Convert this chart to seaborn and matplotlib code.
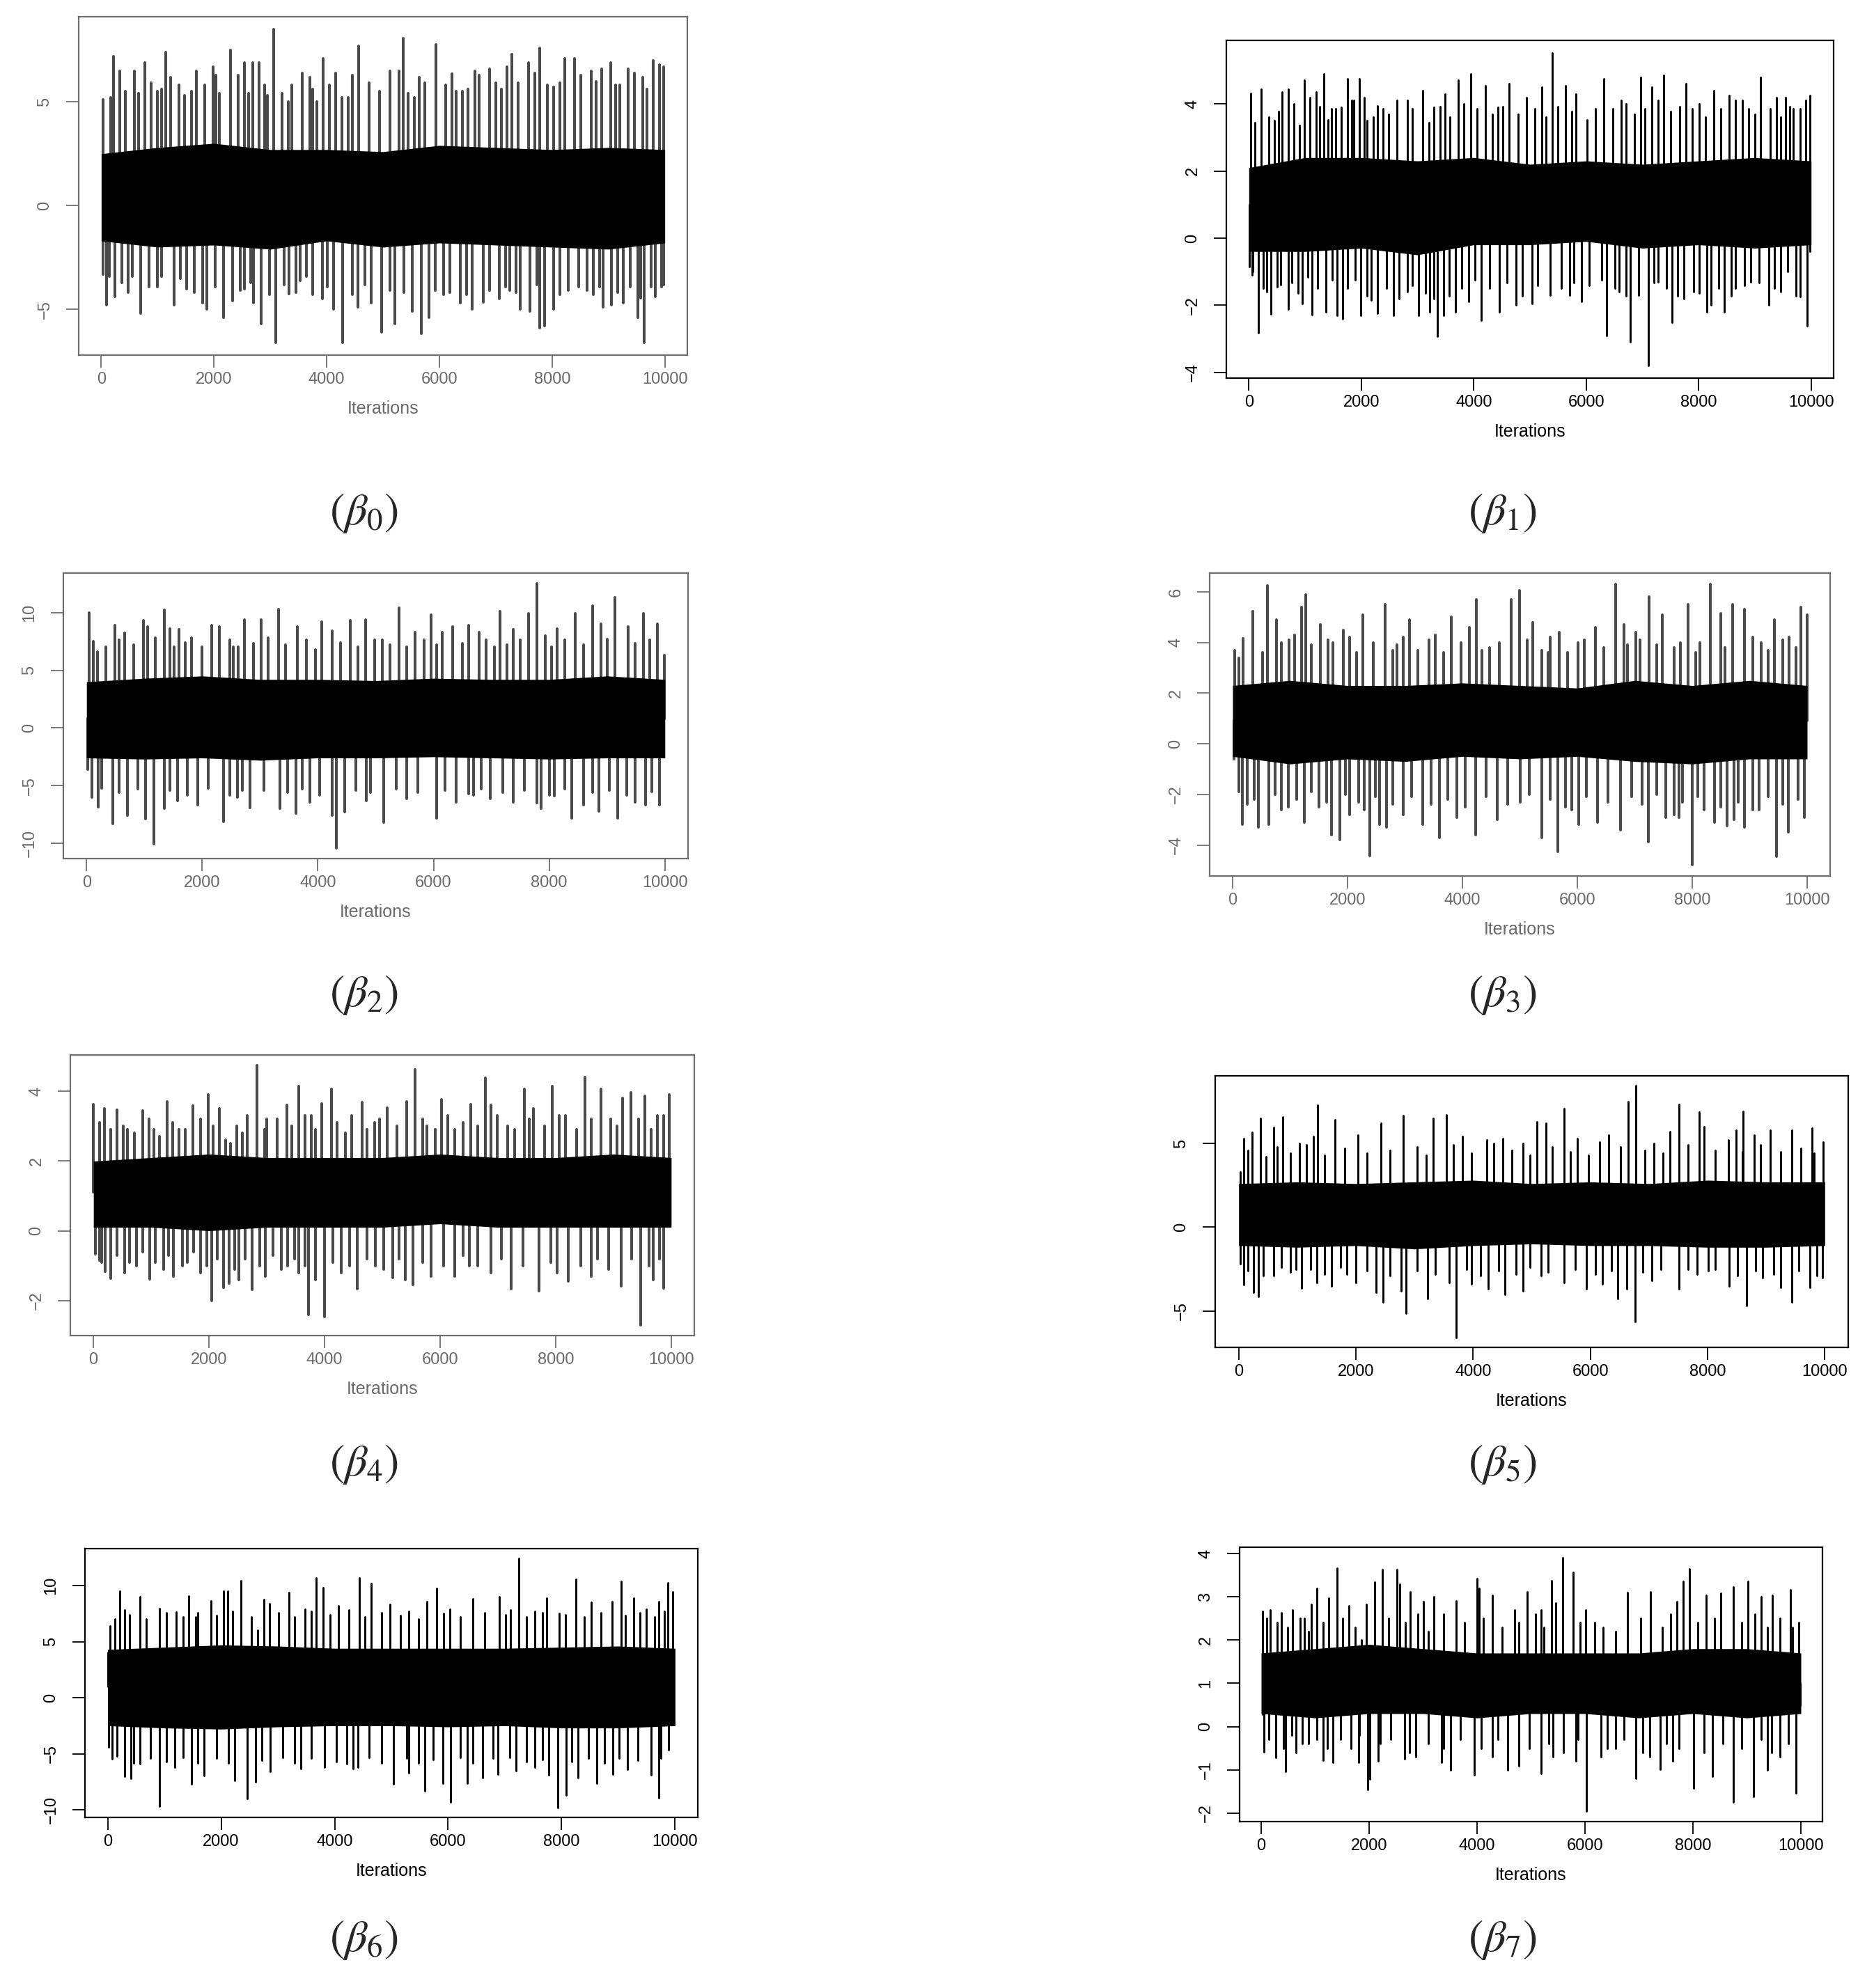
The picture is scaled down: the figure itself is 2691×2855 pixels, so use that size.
import numpy as np
import pandas as pd
import matplotlib
matplotlib.use("Agg")
import matplotlib.pyplot as plt
import seaborn as sns

# ---------------- data ----------------
# peaks / troughs: (iteration, value) of the tallest visible spikes,
# inner_up / inner_dn: the shorter spikes between them, core: edges of the solid black band
core_it = [0, 1000, 2000, 3000, 4000, 5000, 6000, 7000, 8000, 9000, 10000]
iter_ticks = [0, 2000, 4000, 6000, 8000, 10000]

b0_peak_it = [37, 221, 331, 589, 773, 994, 1141, 1230, 1473, 1694, 1988, 2099, 2298, 2541, 2688, 2798, 2946, 3056, 3387, 3572,
              3756, 3940, 4161, 4382, 4566, 4934, 5118, 5354, 5560, 5744, 5943, 6223, 6407, 6628, 6885, 7106, 7290, 7585, 7784, 8027,
              8226, 8395, 8690, 8874, 9036, 9205, 9352, 9610, 9794, 9978]
b0_peak_val = [5.1, 7.2, 6.5, 6.5, 6.9, 5.5, 7.4, 6.2, 5.3, 6.5, 6.7, 5.4, 7.5, 6.9, 6.9, 6.9, 5.3, 8.5, 5.8, 6.4,
               5.6, 7.1, 6.4, 5.2, 7.7, 5.5, 6.5, 8.05, 5.2, 5.9, 7.75, 6.35, 5.5, 6.5, 6.6, 5.6, 7.3, 6.9, 7.6, 5.7,
               7.1, 7.1, 6.5, 6.6, 6.9, 5.8, 6.6, 6.2, 7.0, 6.7]
b0_trough_it = [37, 96, 243, 479, 700, 994, 1289, 1510, 1878, 2172, 2334, 2541, 2703, 2835, 3093, 3336, 3535, 3756, 3925, 4124,
                4286, 4558, 4787, 4971, 5214, 5523, 5685, 5818, 6075, 6370, 6576, 6775, 7069, 7254, 7438, 7607, 7784, 7865, 8027, 8285,
                8726, 8910, 9058, 9257, 9522, 9632, 9831, 9978]
b0_trough_val = [-3.3, -4.8, -4.4, -4.2, -5.2, -3.9, -4.8, -4.0, -5.0, -5.4, -4.6, -4.0, -4.7, -5.7, -6.6, -4.25, -3.6, -4.3, -4.5, -5.0,
                 -6.6, -4.9, -4.7, -6.1, -5.7, -5.1, -6.15, -5.4, -4.3, -4.7, -5.0, -4.65, -4.5, -4.1, -5.0, -5.1, -5.9, -5.8, -5.0, -4.1,
                 -4.3, -4.9, -4.8, -4.7, -5.4, -6.6, -4.4, -3.8]
b0_inner_up_it = [169, 427, 663, 884, 1068, 1377, 1598, 1841, 2040, 2430, 2614, 2894, 3203, 3314, 3704, 3829, 4050, 4271, 4455,
                  4750, 5280, 5449, 5648, 6112, 6296, 6502, 6701, 6996, 7195, 7401, 7695, 7916, 8137, 8505, 8785, 9131, 9463, 9684, 9904]
b0_inner_up_val = [5.2, 5.5, 5.4, 5.9, 5.6, 5.8, 5.5, 5.8, 6.3, 6.3, 5.4, 5.8, 5.4, 5.0, 6.2, 5.0, 5.8, 5.2, 6.3,
                   5.9, 6.5, 5.4, 6.2, 5.8, 5.5, 5.6, 6.3, 5.9, 6.7, 5.9, 6.4, 5.8, 5.9, 6.3, 6.0, 5.8, 6.4, 5.6, 6.8]
b0_inner_dn_it = [147, 368, 552, 847, 1068, 1399, 1657, 1804, 2025, 2467, 2651, 2982, 3240, 3461, 3645, 4013, 4455, 4676, 5118,
                  5376, 5928, 6186, 6480, 6885, 7180, 7364, 7732, 8137, 8469, 8616, 8837, 9168, 9389, 9573, 9757, 9941]
b0_inner_dn_val = [-3.4, -3.7, -3.4, -3.9, -3.4, -3.5, -4.2, -4.7, -3.9, -4.1, -3.7, -4.3, -3.8, -4.2, -3.4, -3.9, -4.3, -3.8, -4.1,
                   -4.2, -4.1, -4.2, -4.3, -4.1, -3.9, -4.2, -3.8, -4.3, -3.9, -4.1, -3.9, -4.2, -3.9, -4.45, -3.9, -3.9]
b0_core_hi = [2.5, 2.8, 3.0, 2.7, 2.7, 2.6, 2.9, 2.8, 2.7, 2.8, 2.7]
b0_core_lo = [-1.7, -2.0, -1.9, -2.1, -1.7, -2.0, -1.8, -1.9, -2.0, -2.1, -1.8]

b1_peak_it = [31, 222, 452, 590, 705, 989, 1081, 1196, 1334, 1465, 1641, 1756, 1871, 1963, 2101, 2293, 2485, 2815, 3098, 3290,
              3489, 3720, 3950, 4210, 4425, 4632, 4939, 5207, 5391, 5629, 5821, 6319, 6703, 6971, 7163, 7378, 7776, 8006, 8275, 8543,
              8773, 9103, 9387, 9540, 9678, 9901, 9977]
b1_peak_val = [4.32, 4.45, 3.5, 4.35, 4.45, 4.7, 4.2, 4.35, 4.9, 3.85, 3.9, 4.75, 4.1, 4.75, 3.5, 3.95, 3.7, 4.1, 4.4, 3.9,
               4.3, 4.7, 4.9, 4.55, 3.9, 4.6, 4.2, 4.5, 5.52, 4.55, 4.3, 4.75, 4.0, 4.8, 4.5, 4.85, 4.6, 4.0, 4.4, 4.25,
               4.1, 4.8, 4.2, 4.2, 3.85, 4.1, 4.25]
b1_trough_it = [8, 54, 169, 314, 391, 498, 705, 951, 1127, 1373, 1572, 1664, 1986, 2178, 2293, 2577, 2815, 3022, 3213, 3351,
                3459, 3674, 3904, 4134, 4456, 4747, 5038, 5361, 5706, 5913, 6358, 6588, 6780, 6933, 7101, 7278, 7523, 7738, 7907, 8144,
                8221, 8451, 8658, 8927, 9249, 9464, 9809, 9924, 9985]
b1_trough_val = [-0.85, -1.1, -2.83, -1.6, -2.26, -1.45, -2.12, -1.95, -2.28, -2.2, -2.3, -2.4, -2.3, -1.85, -2.25, -2.3, -1.6, -2.3, -2.2, -2.93,
                 -2.3, -2.2, -1.9, -2.45, -2.2, -2.0, -1.95, -1.7, -1.7, -1.9, -2.9, -1.6, -3.09, -1.7, -3.8, -1.3, -2.52, -1.8, -1.6, -2.2,
                 -2.0, -2.2, -1.5, -1.3, -2.0, -1.6, -1.75, -2.62, -0.4]
b1_inner_up_it = [107, 360, 529, 798, 897, 1258, 1411, 1541, 1833, 2048, 2216, 2385, 2638, 2907, 3198, 3405, 3581, 3827, 4057, 4325,
                  4517, 4786, 5092, 5284, 5499, 5744, 6012, 6166, 6473, 6626, 6856, 7048, 7278, 7508, 7661, 7891, 8121, 8390, 8658,
                  8889, 9003, 9272, 9464, 9617, 9809]
b1_inner_up_val = [3.45, 3.6, 3.77, 4.0, 3.37, 3.93, 3.53, 3.85, 4.1, 4.2, 3.6, 3.85, 4.1, 3.85, 3.45, 3.93, 3.6, 4.0, 3.85, 3.7,
                   3.93, 3.7, 3.85, 3.6, 3.93, 3.77, 3.53, 3.85, 3.85, 4.1, 3.7, 3.85, 4.1, 3.77, 3.93, 3.85, 3.6, 3.85, 4.1,
                   3.85, 3.7, 3.85, 3.6, 3.93, 3.85]
b1_inner_dn_it = [69, 261, 568, 759, 874, 1051, 1219, 1488, 1756, 1894, 2101, 2446, 2676, 2907, 3137, 3290, 3558, 3789, 4019, 4287,
                  4594, 4862, 5131, 5552, 5783, 6051, 6281, 6511, 6703, 7201, 7431, 7623, 8006, 8352, 8582, 8812, 9080, 9349, 9579, 9732]
b1_inner_dn_val = [-1.0, -1.5, -1.4, -1.33, -1.65, -1.17, -1.49, -1.25, -1.49, -1.25, -1.73, -1.49, -1.81, -1.41, -1.65, -1.81, -1.73, -1.49, -1.25, -1.49,
                   -1.33, -1.73, -1.41, -1.49, -1.33, -1.41, -1.25, -1.49, -1.73, -1.33, -1.49, -1.73, -1.65, -1.49, -1.73, -1.41, -1.33, -1.49, -1.0, -1.73]
b1_core_hi = [2.1, 2.4, 2.4, 2.3, 2.4, 2.2, 2.3, 2.2, 2.3, 2.4, 2.3]
b1_core_lo = [-0.4, -0.4, -0.3, -0.5, -0.2, -0.2, -0.1, -0.3, -0.2, -0.3, -0.2]

b2_peak_it = [44, 192, 487, 656, 981, 1062, 1350, 1446, 1593, 1814, 2168, 2294, 2537, 2736, 3016, 3326, 3643, 4064, 4248, 4558,
              4823, 5118, 5399, 5686, 5959, 6151, 6328, 6608, 6792, 7154, 7382, 7640, 7788, 7935, 8142, 8452, 8747, 8894, 9130, 9359,
              9632, 9875, 9985]
b2_peak_val = [10.0, 6.6, 8.9, 8.2, 9.3, 8.8, 10.2, 8.6, 8.5, 7.8, 8.9, 8.8, 7.0, 9.4, 9.4, 10.3, 8.8, 9.2, 8.4, 9.3,
               9.4, 7.6, 10.4, 8.3, 9.8, 8.3, 8.8, 8.9, 8.3, 10.1, 8.5, 9.9, 12.5, 8.0, 8.6, 9.9, 10.6, 9.0, 11.3, 8.8,
               9.9, 9.0, 6.3]
b2_trough_it = [22, 96, 206, 450, 708, 1018, 1165, 1350, 1578, 1925, 2367, 2611, 2832, 3341, 3621, 3865, 4248, 4322, 4469, 4838,
                5133, 5539, 6055, 6387, 6697, 6977, 7382, 7788, 7862, 8083, 8393, 8600, 8857, 9189, 9484, 9668, 9912]
b2_trough_val = [-3.6, -6.0, -6.85, -8.3, -7.6, -7.9, -10.06, -7.0, -6.3, -6.7, -8.1, -6.0, -6.9, -7.0, -7.4, -6.4, -7.6, -10.4, -7.3, -6.3,
                 -8.2, -6.1, -7.8, -6.4, -5.8, -6.1, -6.4, -6.5, -7.0, -5.9, -7.8, -6.7, -7.2, -7.8, -6.4, -6.7, -6.7]
b2_inner_up_it = [118, 339, 561, 819, 1187, 1519, 1704, 1999, 2478, 2626, 2884, 3142, 3437, 3806, 3953, 4396, 4691, 4986, 5244,
                  5539, 5834, 6055, 6497, 6903, 7050, 7272, 7493, 8046, 8267, 8600, 9005, 9484, 9742]
b2_inner_up_val = [7.5, 7.0, 7.6, 7.2, 7.8, 7.0, 7.4, 7.0, 7.6, 7.0, 7.3, 7.8, 7.2, 7.6, 6.8, 7.4, 7.0, 7.6, 7.2,
                   7.0, 7.6, 7.2, 7.3, 7.6, 7.0, 7.2, 7.6, 7.0, 7.6, 7.2, 7.7, 7.3, 7.6]
b2_inner_dn_it = [266, 561, 892, 1446, 1741, 2109, 2478, 2699, 3068, 3474, 3732, 4027, 4654, 4912, 5354, 5723, 6202, 6608, 6829,
                  7198, 7567, 8009, 8267, 8747, 9042, 9337, 9779]
b2_inner_dn_val = [-5.2, -5.6, -5.3, -5.4, -5.8, -5.2, -5.8, -5.4, -5.4, -5.6, -5.3, -5.8, -5.4, -5.6, -5.3, -5.6, -5.4, -5.7, -5.3,
                   -5.6, -5.4, -5.8, -5.3, -5.6, -5.4, -5.8, -5.5]
b2_core_hi = [4.0, 4.3, 4.5, 4.2, 4.2, 4.1, 4.3, 4.2, 4.2, 4.5, 4.2]
b2_core_lo = [-2.6, -2.7, -2.6, -2.8, -2.6, -2.6, -2.5, -2.6, -2.7, -2.6, -2.6]

b3_peak_it = [37, 186, 349, 609, 765, 987, 1195, 1269, 1522, 1655, 1923, 2264, 2658, 2858, 3081, 3526, 3801, 4247, 4469, 4848,
              4989, 5219, 5494, 5679, 6125, 6310, 6667, 6815, 7016, 7253, 7483, 7684, 7929, 8129, 8315, 8500, 8708, 8909, 9206, 9429,
              9688, 9889, 10000]
b3_peak_val = [3.7, 4.15, 5.24, 6.24, 4.9, 4.1, 5.4, 5.9, 4.7, 4.1, 4.5, 5.1, 5.5, 3.9, 4.9, 4.3, 5.0, 5.7, 3.8, 5.7,
               6.05, 4.8, 3.6, 4.4, 4.1, 4.6, 6.3, 4.7, 4.4, 5.8, 5.1, 3.8, 5.5, 4.0, 6.3, 5.15, 5.5, 5.3, 4.0, 4.9,
               4.2, 5.4, 5.1]
b3_trough_it = [22, 171, 260, 445, 631, 965, 1247, 1507, 1722, 1863, 2042, 2294, 2383, 2561, 2673, 2970, 3304, 3601, 3898, 4232,
                4603, 5011, 5382, 5664, 5902, 6028, 6347, 6756, 7238, 7535, 7684, 7773, 8003, 8203, 8389, 8604, 8723, 8909, 9169, 9466,
                9673, 9948]
b3_trough_val = [-0.6, -3.2, -2.4, -3.3, -3.2, -2.5, -3.1, -2.5, -3.6, -3.8, -2.8, -2.6, -4.43, -3.2, -3.3, -2.8, -3.2, -3.7, -2.9, -3.6,
                 -3.0, -2.3, -3.7, -4.26, -2.6, -3.2, -3.1, -3.4, -3.87, -2.9, -2.8, -2.9, -4.78, -2.6, -3.1, -3.24, -3.0, -3.3, -2.6, -4.45,
                 -3.5, -2.9]
b3_inner_up_it = [111, 520, 854, 1076, 1373, 1745, 2042, 2153, 2450, 2784, 2970, 3229, 3415, 3675, 3972, 4120, 4343, 4640, 5123,
                  5382, 5531, 5828, 6013, 6459, 6867, 7090, 7387, 7795, 8055, 8575, 9057, 9317, 9577, 9800]
b3_inner_up_val = [3.4, 3.6, 4.0, 4.3, 3.9, 4.0, 4.2, 3.6, 4.0, 3.7, 4.2, 3.7, 4.1, 3.6, 4.0, 4.6, 3.7, 4.0, 4.1,
                   3.7, 4.2, 3.6, 4.0, 3.8, 3.9, 4.1, 3.9, 4.0, 3.6, 3.8, 4.2, 3.7, 4.1, 3.8]
b3_inner_dn_it = [111, 371, 742, 854, 1114, 1373, 1633, 1967, 2190, 2487, 2784, 3118, 3452, 3749, 4046, 4417, 4788, 5160, 5531,
                  5791, 6162, 6533, 6941, 7127, 7387, 7832, 8092, 8500, 8797, 9057, 9317, 9577, 9837]
b3_inner_dn_val = [-1.9, -2.2, -2.0, -2.6, -2.2, -1.9, -2.3, -2.0, -2.3, -2.1, -2.4, -2.1, -2.4, -2.2, -2.5, -2.1, -2.4, -2.0, -2.2,
                   -2.5, -2.1, -2.3, -2.1, -2.4, -2.0, -2.3, -2.1, -2.5, -2.3, -2.6, -2.1, -2.4, -2.2]
b3_core_hi = [2.3, 2.5, 2.3, 2.3, 2.4, 2.3, 2.2, 2.5, 2.3, 2.5, 2.3]
b3_core_lo = [-0.5, -0.8, -0.6, -0.7, -0.5, -0.6, -0.5, -0.7, -0.8, -0.6, -0.6]

b4_peak_it = [0, 185, 407, 592, 851, 1050, 1272, 1479, 1716, 1982, 2182, 2367, 2574, 2833, 2995, 3343, 3550, 3772, 3957, 4120,
              4364, 4645, 4867, 5088, 5421, 5569, 5769, 6028, 6250, 6398, 6531, 6782, 6878, 7174, 7455, 7618, 7936, 8173, 8505, 8786,
              8949, 9156, 9304, 9541, 9763, 9970]
b4_peak_val = [3.63, 3.5, 3.47, 2.9, 3.45, 2.9, 3.7, 2.9, 3.58, 3.9, 3.5, 2.5, 2.8, 4.75, 3.2, 3.6, 4.14, 3.3, 3.65, 4.07,
               2.8, 3.68, 3.1, 3.52, 3.7, 4.62, 3.0, 3.76, 2.9, 3.1, 3.63, 4.39, 3.6, 3.0, 4.06, 3.5, 4.14, 3.3, 4.4, 4.07,
               3.2, 3.8, 3.96, 3.87, 3.3, 3.9]
b4_trough_it = [37, 111, 207, 296, 540, 740, 976, 1220, 1383, 1538, 1849, 2041, 2256, 2352, 2515, 2751, 2973, 3365, 3550, 3720,
                3846, 3994, 4290, 4563, 4881, 5177, 5399, 5532, 5843, 6250, 6508, 6878, 7233, 7707, 8025, 8224, 8616, 9134, 9467, 9689,
                9874]
b4_trough_val = [-0.66, -0.85, -1.16, -1.37, -1.2, -1.0, -1.39, -1.1, -1.3, -1.0, -1.2, -2.01, -1.62, -1.5, -1.4, -1.68, -1.3, -1.0, -1.2, -2.41,
                 -1.4, -2.47, -1.2, -1.67, -1.0, -1.35, -1.4, -1.55, -1.3, -1.3, -1.0, -1.2, -1.67, -1.72, -1.2, -1.45, -1.3, -1.58, -2.71, -1.4,
                 -1.65]
b4_inner_up_it = [111, 296, 518, 703, 961, 1146, 1368, 1590, 1849, 2071, 2293, 2478, 2663, 2958, 3180, 3439, 3661, 3846, 4216,
                  4475, 4733, 4955, 5251, 5695, 5917, 6139, 6656, 6989, 7285, 7544, 7803, 8062, 8357, 8616, 9060, 9430, 9652, 9874]
b4_inner_up_val = [3.1, 2.9, 3.0, 2.8, 3.2, 2.7, 3.1, 2.9, 3.2, 3.0, 2.6, 3.0, 3.3, 2.9, 3.2, 3.0, 3.3, 2.9, 3.1,
                   3.3, 2.9, 3.2, 3.0, 3.2, 2.9, 3.3, 3.0, 3.3, 2.9, 3.2, 3.0, 3.3, 2.9, 3.2, 3.0, 3.2, 2.9, 3.3]
b4_inner_dn_it = [148, 407, 629, 851, 1072, 1294, 1627, 1738, 1960, 2145, 2441, 2626, 2884, 3106, 3254, 3476, 3661, 4142, 4438,
                  4733, 5029, 5288, 5695, 6065, 6398, 6656, 7063, 7433, 7914, 8431, 8727, 8912, 9319, 9615, 9800]
b4_inner_dn_val = [-0.9, -0.7, -0.9, -0.6, -0.9, -0.7, -0.9, -0.6, -1.0, -0.8, -1.1, -0.8, -1.0, -0.7, -1.1, -0.8, -1.0, -0.9, -1.0,
                   -0.8, -1.1, -0.8, -0.9, -1.0, -0.7, -1.0, -0.8, -1.0, -0.9, -1.0, -0.8, -1.1, -0.8, -1.0, -0.8]
b4_core_hi = [2.0, 2.1, 2.2, 2.1, 2.1, 2.1, 2.2, 2.1, 2.1, 2.2, 2.1]
b4_core_lo = [0.1, 0.1, 0.0, 0.1, 0.1, 0.1, 0.2, 0.1, 0.1, 0.1, 0.1]

b5_peak_it = [23, 92, 231, 370, 593, 747, 1040, 1271, 1348, 1641, 2041, 2427, 2812, 3313, 3544, 3813, 4237, 4507, 4853, 5085,
              5239, 5547, 5778, 6163, 6317, 6649, 6780, 7088, 7357, 7511, 7858, 7935, 8359, 8490, 8606, 8798, 9068, 9437, 9784, 9977]
b5_peak_val = [3.3, 5.3, 5.66, 6.5, 5.97, 6.6, 5.0, 5.4, 7.27, 6.4, 5.5, 6.2, 6.65, 6.5, 6.7, 5.4, 5.2, 5.3, 5.0, 6.3,
               6.2, 7.07, 5.3, 5.1, 5.5, 7.5, 8.43, 5.0, 5.7, 7.34, 6.86, 6.0, 5.2, 5.8, 6.9, 5.5, 5.8, 5.8, 5.93, 5.1]
b5_trough_it = [23, 92, 254, 331, 593, 978, 1079, 1333, 1579, 1849, 2003, 2350, 2465, 2773, 2850, 3220, 3598, 3713, 3968, 4260,
                4545, 4853, 5162, 5547, 5932, 6202, 6472, 6626, 6764, 7049, 7511, 7665, 8012, 8374, 8667, 8937, 9245, 9437, 9746, 9962]
b5_trough_val = [-2.2, -3.44, -3.9, -4.15, -2.9, -2.5, -3.64, -3.3, -3.5, -2.8, -3.3, -3.9, -4.46, -3.8, -5.13, -4.28, -3.3, -6.57, -3.4, -3.7,
                 -4.0, -3.8, -2.9, -3.3, -3.7, -3.4, -4.26, -3.7, -5.65, -3.2, -3.7, -2.5, -2.6, -3.5, -4.69, -3.0, -3.6, -4.46, -3.6, -3.0]
b5_inner_up_it = [154, 462, 655, 886, 1156, 1464, 1810, 2196, 2581, 3043, 3197, 3659, 3968, 4353, 4661, 4969, 5354, 5662, 5971,
                  6510, 6934, 7242, 7665, 8128, 8590, 8898, 9245, 9591, 9823]
b5_inner_up_val = [4.6, 4.2, 4.8, 4.4, 4.9, 4.3, 4.7, 4.4, 4.6, 4.8, 4.3, 4.9, 4.4, 5.0, 4.6, 4.3, 4.8, 4.5, 4.3,
                   4.8, 4.6, 4.4, 4.9, 4.6, 4.5, 4.9, 4.5, 4.7, 4.4]
b5_inner_dn_it = [154, 424, 732, 886, 1233, 1464, 1733, 2196, 2581, 3043, 3351, 3891, 4122, 4430, 4738, 4969, 5277, 5739, 6086,
                  6356, 6895, 7203, 7820, 8128, 8513, 8821, 9129, 9553, 9861]
b5_inner_dn_val = [-2.6, -2.9, -2.4, -2.7, -2.5, -2.8, -2.4, -2.6, -2.9, -2.6, -2.8, -2.5, -2.9, -2.6, -2.8, -2.4, -2.7, -2.5, -2.8,
                   -2.6, -2.7, -2.5, -2.8, -2.5, -2.9, -2.6, -2.8, -2.6, -2.9]
b5_core_hi = [2.6, 2.7, 2.6, 2.7, 2.8, 2.6, 2.7, 2.6, 2.8, 2.7, 2.7]
b5_core_lo = [-1.1, -1.2, -1.1, -1.3, -1.1, -1.0, -1.1, -1.1, -1.2, -1.2, -1.1]

b6_peak_it = [7, 36, 218, 299, 568, 910, 1202, 1427, 1551, 1821, 2046, 2119, 2352, 2644, 2753, 2848, 3190, 3481, 3678, 3794,
              4064, 4435, 4646, 4974, 5302, 5630, 5797, 6030, 6431, 6904, 7101, 7247, 7523, 7742, 7960, 8251, 8528, 8892, 9045, 9271,
              9490, 9708, 9876, 9963]
b6_peak_val = [4.04, 6.4, 9.5, 7.8, 9.0, 7.95, 7.66, 9.08, 7.2, 8.66, 9.53, 9.5, 10.45, 6.0, 8.76, 8.4, 9.37, 7.9, 10.7, 9.84,
               8.2, 10.7, 10.2, 8.3, 7.7, 8.6, 9.78, 7.9, 8.8, 9.0, 7.8, 12.4, 7.7, 8.9, 7.5, 10.55, 8.5, 8.6, 10.35, 8.9,
               7.9, 8.56, 10.24, 9.47]
b6_trough_it = [22, 73, 299, 408, 568, 918, 1187, 1478, 1697, 2243, 2462, 2607, 2862, 3408, 3824, 4319, 4406, 5032, 5302, 5593,
                5906, 6045, 6336, 6613, 6882, 7196, 7523, 7778, 7938, 8084, 8288, 8616, 8907, 9162, 9577, 9708, 9890]
b6_trough_val = [-4.4, -5.47, -7.03, -7.2, -5.9, -9.7, -6.2, -7.7, -6.97, -7.4, -9.0, -7.5, -6.55, -6.3, -6.2, -6.3, -6.2, -7.7, -6.7, -8.3,
                 -7.6, -9.33, -7.6, -7.1, -6.8, -6.5, -6.2, -6.9, -9.78, -8.7, -7.1, -7.6, -6.8, -6.4, -6.9, -8.96, -4.65]
b6_inner_up_it = [131, 386, 677, 1041, 1333, 1588, 1915, 2207, 2534, 3008, 3299, 3590, 3918, 4246, 4537, 4828, 5156, 5484, 5921,
                  6212, 6649, 7013, 7378, 7669, 8069, 8397, 8688, 9125, 9380, 9635, 9817]
b6_inner_up_val = [7.0, 7.4, 7.0, 7.6, 7.2, 7.6, 7.3, 7.7, 7.2, 7.6, 7.2, 7.7, 7.4, 7.8, 7.2, 7.6, 7.3, 7.0, 7.5,
                   7.2, 7.6, 7.4, 7.2, 7.6, 7.4, 7.2, 7.6, 7.3, 7.6, 7.2, 7.7]
b6_inner_dn_it = [168, 459, 750, 1041, 1333, 1588, 1915, 2134, 2717, 3081, 3299, 3590, 4027, 4210, 4610, 4828, 5266, 5484, 5739,
                  6212, 6431, 6795, 7086, 7378, 7669, 8179, 8470, 8761, 9016, 9344, 9745]
b6_inner_dn_val = [-5.2, -5.8, -5.4, -5.7, -5.3, -5.8, -5.4, -5.8, -5.6, -5.3, -5.8, -5.4, -5.7, -5.9, -5.3, -5.8, -5.4, -5.8, -5.5,
                   -5.3, -5.8, -5.4, -5.3, -5.7, -5.5, -5.7, -5.4, -5.8, -5.4, -5.6, -5.4]
b6_core_hi = [4.3, 4.5, 4.7, 4.6, 4.4, 4.4, 4.4, 4.4, 4.5, 4.6, 4.4]
b6_core_lo = [-2.5, -2.7, -2.8, -2.6, -2.5, -2.5, -2.6, -2.5, -2.7, -2.7, -2.5]

b7_peak_it = [23, 101, 164, 374, 585, 803, 935, 1037, 1255, 1411, 1621, 1949, 2104, 2245, 2518, 2572, 2767, 3001, 3203, 3609,
              3998, 4045, 4287, 4700, 4934, 5183, 5378, 5456, 5581, 5775, 6009, 6181, 6789, 7217, 7700, 7817, 7934, 8246, 8519, 8753,
              9025, 9259, 9477, 9805, 9961]
b7_peak_val = [2.67, 2.5, 2.69, 2.63, 2.7, 2.5, 2.82, 3.19, 2.97, 3.67, 2.79, 2.83, 3.34, 3.63, 3.63, 3.29, 3.12, 2.89, 3.0, 2.9,
               3.42, 3.2, 3.03, 2.7, 3.12, 2.7, 3.38, 2.85, 3.91, 3.56, 2.7, 2.4, 3.1, 3.12, 2.89, 3.36, 3.65, 3.04, 3.08, 3.22,
               3.36, 3.0, 3.03, 3.16, 2.41]
b7_trough_it = [23, 47, 273, 452, 647, 881, 1153, 1333, 1800, 1972, 2011, 2167, 2658, 2868, 3336, 3507, 3951, 4287, 4567, 4778,
                5191, 5401, 5830, 6025, 6298, 6570, 6937, 7194, 7389, 7623, 8012, 8363, 8753, 9127, 9376, 9610, 9906, 9984]
b7_trough_val = [0.28, -0.59, -0.71, -1.03, -0.6, -0.4, -0.78, -0.83, -0.82, -1.46, -1.21, -0.8, -0.74, -0.7, -0.82, -1.0, -1.12, -0.7, -1.0, -0.9,
                 -1.08, -0.7, -0.8, -1.96, -0.7, -0.5, -1.19, -0.7, -0.98, -0.8, -1.43, -1.15, -1.75, -1.62, -1.0, -0.7, -1.53, 0.5]
b7_inner_up_it = [101, 296, 491, 725, 881, 1153, 1504, 1738, 1855, 2362, 2673, 2907, 3102, 3375, 3765, 4115, 4466, 4778, 5089,
                  5245, 5908, 6337, 6570, 7038, 7428, 7584, 8090, 8402, 8909, 9142, 9376, 9610, 9844]
b7_inner_up_val = [2.2, 2.4, 2.3, 2.5, 2.2, 2.4, 2.5, 2.3, 2.0, 2.5, 2.4, 2.6, 2.2, 2.6, 2.4, 2.5, 2.3, 2.4, 2.6,
                   2.3, 2.4, 2.3, 2.2, 2.5, 2.3, 2.6, 2.4, 2.5, 2.4, 2.6, 2.3, 2.5, 2.3]
b7_inner_dn_it = [140, 413, 569, 764, 1037, 1231, 1465, 1660, 1816, 2206, 2401, 2751, 3102, 3375, 3687, 4076, 4388, 4973, 5323,
                  5596, 5869, 6415, 6726, 7077, 7506, 7739, 8207, 8558, 8909, 9259, 9454, 9766]
b7_inner_dn_val = [-0.3, -0.5, -0.2, -0.4, -0.3, -0.5, -0.3, -0.5, -0.2, -0.4, -0.3, -0.6, -0.4, -0.5, -0.3, -0.5, -0.3, -0.5, -0.4,
                   -0.6, -0.3, -0.5, -0.3, -0.6, -0.4, -0.5, -0.6, -0.4, -0.5, -0.3, -0.6, -0.4]
b7_core_hi = [1.7, 1.8, 1.9, 1.8, 1.7, 1.7, 1.7, 1.7, 1.8, 1.8, 1.7]
b7_core_lo = [0.3, 0.2, 0.3, 0.3, 0.2, 0.3, 0.3, 0.2, 0.3, 0.2, 0.3]

mids = [0.5, 1.0, 0.8, 0.9, 1.1, 0.8, 1.0, 1.0]
yticks = [[-5, 0, 5], [-4, -2, 0, 2, 4], [-10, -5, 0, 5, 10], [-4, -2, 0, 2, 4, 6],
          [-2, 0, 2, 4], [-5, 0, 5], [-10, -5, 0, 5, 10], [-2, -1, 0, 1, 2, 3, 4]]
labels = [r"$(\beta_{%d})$" % i for i in range(8)]

spike_sets = [
    [(b0_peak_it, b0_peak_val), (b0_trough_it, b0_trough_val), (b0_inner_up_it, b0_inner_up_val), (b0_inner_dn_it, b0_inner_dn_val)],
    [(b1_peak_it, b1_peak_val), (b1_trough_it, b1_trough_val), (b1_inner_up_it, b1_inner_up_val), (b1_inner_dn_it, b1_inner_dn_val)],
    [(b2_peak_it, b2_peak_val), (b2_trough_it, b2_trough_val), (b2_inner_up_it, b2_inner_up_val), (b2_inner_dn_it, b2_inner_dn_val)],
    [(b3_peak_it, b3_peak_val), (b3_trough_it, b3_trough_val), (b3_inner_up_it, b3_inner_up_val), (b3_inner_dn_it, b3_inner_dn_val)],
    [(b4_peak_it, b4_peak_val), (b4_trough_it, b4_trough_val), (b4_inner_up_it, b4_inner_up_val), (b4_inner_dn_it, b4_inner_dn_val)],
    [(b5_peak_it, b5_peak_val), (b5_trough_it, b5_trough_val), (b5_inner_up_it, b5_inner_up_val), (b5_inner_dn_it, b5_inner_dn_val)],
    [(b6_peak_it, b6_peak_val), (b6_trough_it, b6_trough_val), (b6_inner_up_it, b6_inner_up_val), (b6_inner_dn_it, b6_inner_dn_val)],
    [(b7_peak_it, b7_peak_val), (b7_trough_it, b7_trough_val), (b7_inner_up_it, b7_inner_up_val), (b7_inner_dn_it, b7_inner_dn_val)],
]
cores = [(b0_core_lo, b0_core_hi), (b1_core_lo, b1_core_hi), (b2_core_lo, b2_core_hi), (b3_core_lo, b3_core_hi),
         (b4_core_lo, b4_core_hi), (b5_core_lo, b5_core_hi), (b6_core_lo, b6_core_hi), (b7_core_lo, b7_core_hi)]

# ---------------- layout (pixel boxes L, T, R, B in the 2691x2855 canvas) ----------------
W, H = 2691, 2855
boxes = [(113, 24, 987, 510), (1761, 58, 2633, 543),
         (91, 823, 988, 1233), (1737, 823, 2628, 1258),
         (101, 1515, 997, 1918), (1745, 1545, 2654, 1935),
         (122, 2224, 1002, 2610), (1780, 2222, 2617, 2616)]
label_pos = [(522, 737), (2157, 737), (522, 1429), (2157, 1429),
             (522, 2103), (2157, 2103), (522, 2786), (2157, 2786)]
blurry = [True, False, True, True, True, False, False, False]

sns.set_theme(style="ticks")
plt.rcParams["font.family"] = ["Liberation Sans", "DejaVu Sans"]
plt.rcParams["mathtext.fontset"] = "stix"

fig = plt.figure(figsize=(W / 100, H / 100), dpi=100)
fig.patch.set_facecolor("white")

for k in range(8):
    L, T, R, B = boxes[k]
    ax = fig.add_axes([L / W, 1 - B / H, (R - L) / W, (B - T) / H])
    ax.set_facecolor("white")

    if blurry[k]:
        spike_col, frame_col, text_col, lw = "#4a4a4a", "#6e6e6e", "#6a6a6a", 2.9
    else:
        spike_col, frame_col, text_col, lw = "black", "black", "black", 2.1

    pts = pd.concat([pd.DataFrame({"iteration": its, "value": vals}) for its, vals in spike_sets[k]],
                    ignore_index=True)

    # a vertical stroke from the chain's centre to every read extreme
    spikes = pd.concat([pts.assign(unit=pts.index), pts.assign(unit=pts.index, value=mids[k])])
    spikes = spikes.sort_values(["unit", "value"]).reset_index(drop=True)
    sns.lineplot(data=spikes, x="iteration", y="value", units="unit", estimator=None, sort=False,
                 color=spike_col, lw=lw, ax=ax, legend=False, zorder=2)

    lo, hi = cores[k]
    ax.fill_between(core_it, lo, hi, color="black", lw=0, zorder=3)

    allv = pts["value"]
    pad = 0.04 * (allv.max() - allv.min())
    ax.set_ylim(allv.min() - pad, allv.max() + pad)
    ax.set_xlim(-400, 10400)
    ax.set_xticks(iter_ticks)
    ax.set_yticks(yticks[k])
    ax.tick_params(axis="both", length=13, width=1.3, color=frame_col, labelcolor=text_col, labelsize=17)
    ax.tick_params(axis="x", pad=4)
    ax.tick_params(axis="y", pad=14, labelrotation=90)
    plt.setp(ax.get_yticklabels(), va="center")
    ax.set_xlabel("Iterations", fontsize=18, color=text_col, labelpad=14)
    ax.set_ylabel("")
    for s in ax.spines.values():
        s.set_visible(True)
        s.set_color(frame_col)
        s.set_linewidth(1.6)

    lx, ly = label_pos[k]
    fig.text(lx / W, 1 - ly / H, labels[k], fontsize=46, ha="center", va="center")

fig.savefig("out.png", dpi=100, facecolor="white")
